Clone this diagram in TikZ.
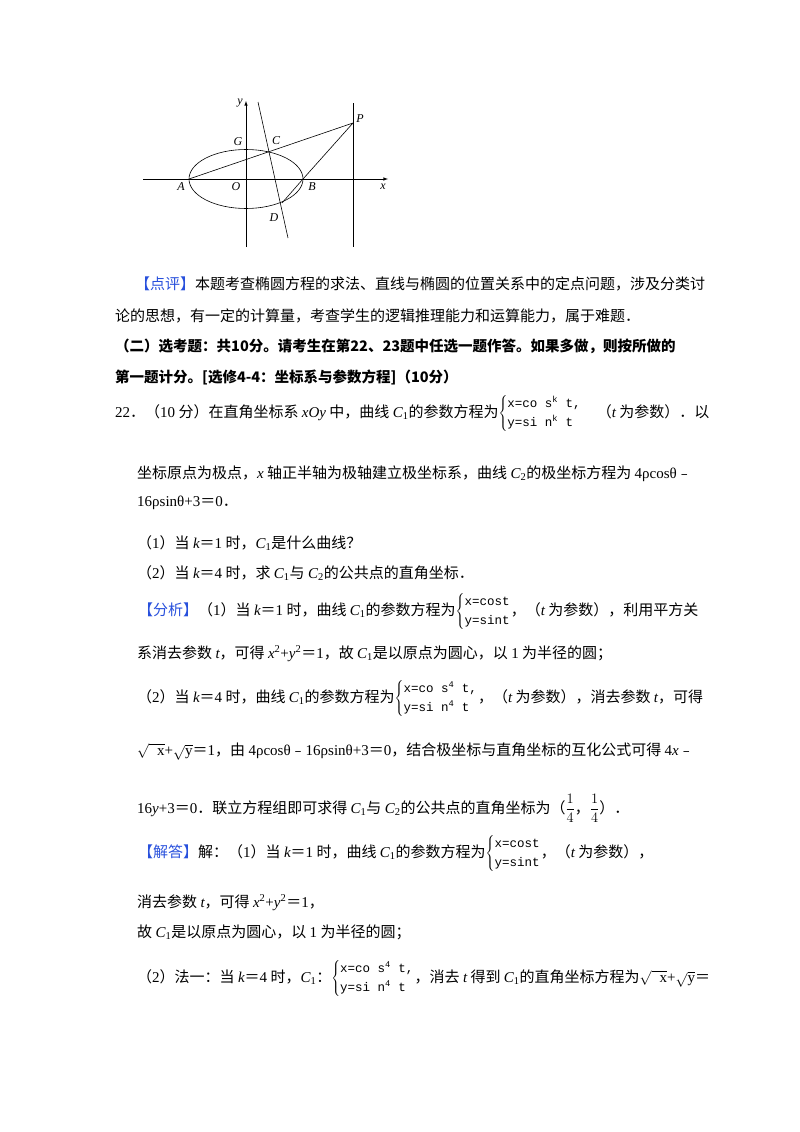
\documentclass[tikz,border=0pt]{standalone}
\usepackage{fontspec}
\setmainfont{Liberation Serif}
\newfontfamily\cjk{Noto Sans CJK SC}
\newfontfamily\mono{Liberation Mono}
\newcommand\vi[1]{{\itshape #1}}
\newcommand\sub[1]{\textsubscript{#1}}
\newcommand\pb[2]{\(\left\{\begin{array}{@{}l@{}}\mbox{\mono\fontsize{12.5}{13}\selectfont #1}\\[3pt]\mbox{\mono\fontsize{12.5}{13}\selectfont #2}\end{array}\right.\)}
\definecolor{hb}{RGB}{40,80,220}
\begin{document}
\begin{tikzpicture}[x=1pt,y=-1pt,
  ln/.style={anchor=base west,inner sep=0pt,font=\cjk\fontsize{15}{16}\selectfont},
  lab/.style={font=\itshape\fontsize{12}{12}\selectfont,inner sep=0pt},
  thin/.style={line width=0.6pt}]
\useasboundingbox (0,0) rectangle (800,1132);
% diagram
\coordinate (O) at (246,179);
\coordinate (A) at (189,179);
\coordinate (B) at (303,179);
\coordinate (P) at (353,123);
\coordinate (C) at (269,152);
\coordinate (D) at (282,203);
\coordinate (L1) at (258,102);
\coordinate (L2) at (288,238);
\draw[thin,-latex] (143,179) -- (388,179);
\draw[thin,-latex] (246,247) -- (246,101);
\draw[thin] (353,103) -- (353,247);
\draw[thin] (O) ellipse (57 and 29.5);
\draw[thin] (L1) -- (L2);
\draw[thin] (A) -- (P) -- (B) -- (D);
\node[lab] at (240,103) {y};
\node[lab] at (238,142) {G};
\node[lab] at (276,141) {C};
\node[lab] at (360,119) {P};
\node[lab] at (181,187) {A};
\node[lab] at (236,187) {O};
\node[lab] at (312,187) {B};
\node[lab] at (383,187) {x};
\node[lab] at (274,218) {D};
% text
\node[ln] (t1) at (135,289) {{\color{hb}【点评】}本题考查椭圆方程的求法、直线与椭圆的位置关系中的定点问题，涉及分类讨};
\node[ln] (t2) at (115,321) {论的思想，有一定的计算量，考查学生的逻辑推理能力和运算能力，属于难题．};
\node[ln,font=\cjk\bfseries\fontsize{14.5}{16}\selectfont] (t3) at (115,351) {（二）选考题：共10分。请考生在第22、23题中任选一题作答。如果多做，则按所做的};
\node[ln,font=\cjk\bfseries\fontsize{14.5}{16}\selectfont] (t4) at (115,382) {第一题计分。[选修4-4：坐标系与参数方程]（10分）};
\node[ln] (t5) at (115,417) {{\rmfamily 22}．（{\rmfamily 10} 分）在直角坐标系 {\rmfamily\vi{xOy}} 中，曲线 {\rmfamily\vi{C}\sub{1}}的参数方程为\pb{x=co s\textsuperscript{k} t,}{y=si n\textsuperscript{k} t}\quad（{\rmfamily\vi{t}} 为参数）．以};
\node[ln] (t6) at (137,478) {坐标原点为极点，{\rmfamily\vi{x}} 轴正半轴为极轴建立极坐标系，曲线 {\rmfamily\vi{C}\sub{2}}的极坐标方程为 {\rmfamily 4ρcosθ}﹣};
\node[ln] (t7) at (137,506) {{\rmfamily 16ρsinθ+3}＝{\rmfamily 0}．};
\node[ln] (t8) at (137,548) {（{\rmfamily 1}）当 {\rmfamily\vi{k}}＝{\rmfamily 1} 时，{\rmfamily\vi{C}\sub{1}}是什么曲线？};
\node[ln] (t9) at (137,578) {（{\rmfamily 2}）当 {\rmfamily\vi{k}}＝{\rmfamily 4} 时，求 {\rmfamily\vi{C}\sub{1}}与 {\rmfamily\vi{C}\sub{2}}的公共点的直角坐标．};
\node[ln] (t10) at (138,615) {{\color{hb}【分析】}（{\rmfamily 1}）当 {\rmfamily\vi{k}}＝{\rmfamily 1} 时，曲线 {\rmfamily\vi{C}\sub{1}}的参数方程为\pb{x=cost}{y=sint}，（{\rmfamily\vi{t}} 为参数），利用平方关};
\node[ln] (t11) at (137,658) {系消去参数 {\rmfamily\vi{t}}，可得 {\rmfamily\vi{x}\textsuperscript{2}+\vi{y}\textsuperscript{2}}＝{\rmfamily 1}，故 {\rmfamily\vi{C}\sub{1}}是以原点为圆心，以 {\rmfamily 1} 为半径的圆；};
\node[ln] (t12) at (137,702) {（{\rmfamily 2}）当 {\rmfamily\vi{k}}＝{\rmfamily 4} 时，曲线 {\rmfamily\vi{C}\sub{1}}的参数方程为\pb{x=co s\textsuperscript{4} t,}{y=si n\textsuperscript{4} t}，（{\rmfamily\vi{t}} 为参数），消去参数 {\rmfamily\vi{t}}，可得};
\node[ln] (t13) at (137,755) {{\rmfamily$\sqrt{\phantom{x}\mbox{x}}$+$\sqrt{\mbox{y}}$}＝{\rmfamily 1}，由 {\rmfamily 4ρcosθ}﹣{\rmfamily 16ρsinθ+3}＝{\rmfamily 0}，结合极坐标与直角坐标的互化公式可得 {\rmfamily 4\vi{x}}﹣};
\node[ln] (t14) at (137,813) {{\rmfamily 16\vi{y}+3}＝{\rmfamily 0}．联立方程组即可求得 {\rmfamily\vi{C}\sub{1}}与 {\rmfamily\vi{C}\sub{2}}的公共点的直角坐标为（{\rmfamily$\displaystyle\frac{1}{4}$}，{\rmfamily$\displaystyle\frac{1}{4}$}）．};
\node[ln] (t15) at (138,857) {{\color{hb}【解答】}解：（{\rmfamily 1}）当 {\rmfamily\vi{k}}＝{\rmfamily 1} 时，曲线 {\rmfamily\vi{C}\sub{1}}的参数方程为\pb{x=cost}{y=sint}，（{\rmfamily\vi{t}} 为参数），};
\node[ln] (t16) at (137,907) {消去参数 {\rmfamily\vi{t}}，可得 {\rmfamily\vi{x}\textsuperscript{2}+\vi{y}\textsuperscript{2}}＝{\rmfamily 1}，};
\node[ln] (t17) at (137,937) {故 {\rmfamily\vi{C}\sub{1}}是以原点为圆心，以 {\rmfamily 1} 为半径的圆；};
\node[ln] (t18) at (137,982) {（{\rmfamily 2}）法一：当 {\rmfamily\vi{k}}＝{\rmfamily 4} 时，{\rmfamily\vi{C}\sub{1}}：\pb{x=co s\textsuperscript{4} t,}{y=si n\textsuperscript{4} t}，消去 {\rmfamily\vi{t}} 得到 {\rmfamily\vi{C}\sub{1}}的直角坐标方程为{\rmfamily$\sqrt{\phantom{x}\mbox{x}}$+$\sqrt{\mbox{y}}$}＝};
\end{tikzpicture}
\end{document}
